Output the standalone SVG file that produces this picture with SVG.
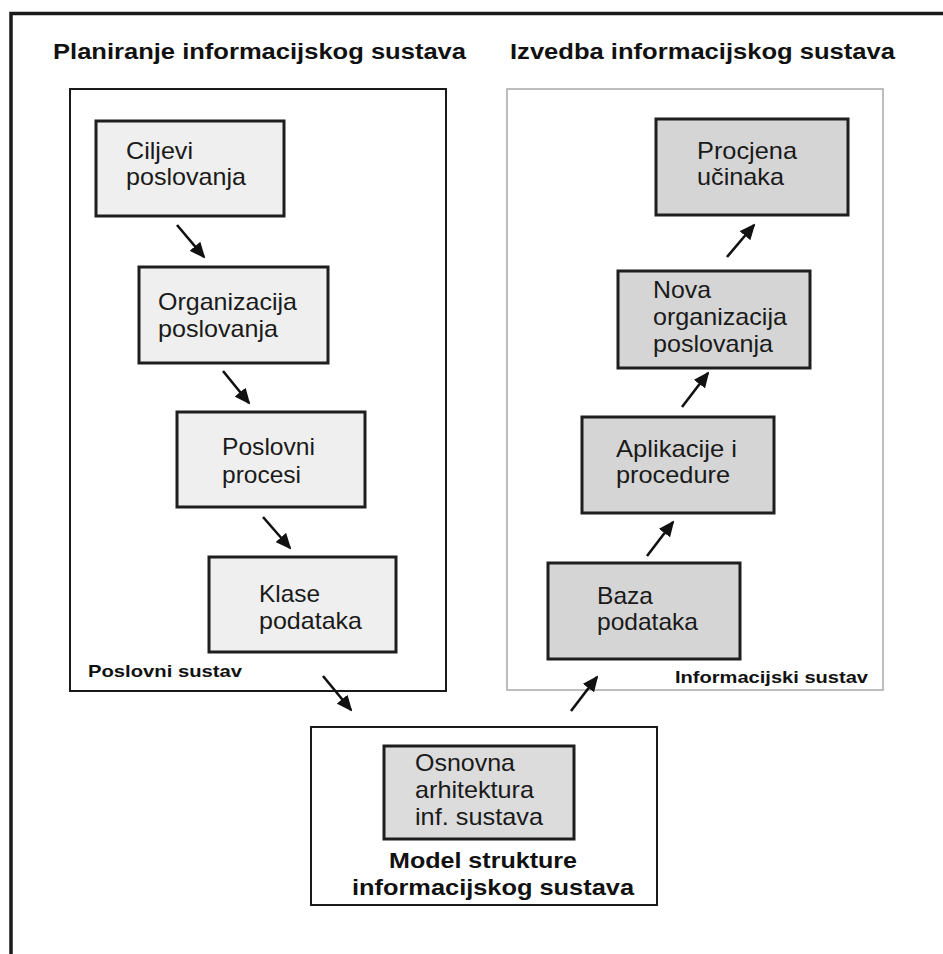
<svg xmlns="http://www.w3.org/2000/svg" width="943" height="954" viewBox="0 0 943 954">
<defs>
<style>
.t{font-family:"Liberation Sans",Arial,sans-serif;font-size:24px;fill:#1a1a1a}
.b{font-family:"Liberation Sans",Arial,sans-serif;font-weight:bold;fill:#111}
.h{font-size:22px}
.m{font-size:22px}
.s{font-size:16.5px}
.nl{fill:#efefef;stroke:#1e1e1e;stroke-width:3}
.nr{fill:#d5d5d5;stroke:#1e1e1e;stroke-width:3}
.no{fill:#dcdcdc;stroke:#1e1e1e;stroke-width:3}
.c{stroke:#111;stroke-width:2.6;fill:none;marker-end:url(#ah)}
</style>
<marker id="ah" markerUnits="userSpaceOnUse" markerWidth="16" markerHeight="14" refX="14" refY="7" orient="auto">
<path d="M0,0 L16,7 L0,14 Z" fill="#111"/>
</marker>
</defs>
<rect width="943" height="954" fill="#fff"/>
<g id="frame">
<path d="M11,954 L11,13.5 L943,13.5" fill="none" stroke="#1a1a1a" stroke-width="3.5"/>
</g>
<g id="titles">
<text class="b h" x="53" y="59" textLength="413" lengthAdjust="spacingAndGlyphs">Planiranje informacijskog sustava</text>
<text class="b h" x="510" y="59" textLength="385" lengthAdjust="spacingAndGlyphs">Izvedba informacijskog sustava</text>
</g>
<g id="poslovni-sustav">
<rect x="70" y="89" width="376" height="602" fill="#fff" stroke="#1a1a1a" stroke-width="2"/>
<text class="b s" x="88" y="677" textLength="154" lengthAdjust="spacingAndGlyphs">Poslovni sustav</text>
</g>
<g id="informacijski-sustav">
<rect x="507" y="89" width="376" height="601" fill="#fff" stroke="#a8a8a8" stroke-width="1.5"/>
<text class="b s" x="675" y="683" textLength="193" lengthAdjust="spacingAndGlyphs">Informacijski sustav</text>
</g>
<g id="model-strukture">
<rect x="311" y="727" width="346" height="178" fill="#fff" stroke="#1a1a1a" stroke-width="2"/>
<text class="b m" x="389" y="868" textLength="188" lengthAdjust="spacingAndGlyphs">Model strukture</text>
<text class="b m" x="352" y="895" textLength="282" lengthAdjust="spacingAndGlyphs">informacijskog sustava</text>
</g>
<g id="ciljevi">
<rect class="nl" x="96" y="121" width="188" height="95"/>
<text class="t" x="126" y="159" textLength="67" lengthAdjust="spacingAndGlyphs">Ciljevi</text>
<text class="t" x="126" y="185" textLength="120" lengthAdjust="spacingAndGlyphs">poslovanja</text>
</g>
<g id="organizacija">
<rect class="nl" x="139" y="267" width="189" height="96"/>
<text class="t" x="158" y="310" textLength="139" lengthAdjust="spacingAndGlyphs">Organizacija</text>
<text class="t" x="158" y="337" textLength="120" lengthAdjust="spacingAndGlyphs">poslovanja</text>
</g>
<g id="procesi">
<rect class="nl" x="177" y="412" width="188" height="95"/>
<text class="t" x="222" y="455" textLength="93" lengthAdjust="spacingAndGlyphs">Poslovni</text>
<text class="t" x="222" y="483" textLength="79" lengthAdjust="spacingAndGlyphs">procesi</text>
</g>
<g id="klase">
<rect class="nl" x="209" y="557" width="187" height="95"/>
<text class="t" x="259" y="602" textLength="61" lengthAdjust="spacingAndGlyphs">Klase</text>
<text class="t" x="259" y="629" textLength="103" lengthAdjust="spacingAndGlyphs">podataka</text>
</g>
<g id="procjena">
<rect class="nr" x="656" y="119" width="192" height="96"/>
<text class="t" x="697" y="159" textLength="100" lengthAdjust="spacingAndGlyphs">Procjena</text>
<text class="t" x="697" y="185" textLength="87" lengthAdjust="spacingAndGlyphs">učinaka</text>
</g>
<g id="nova-organizacija">
<rect class="nr" x="618" y="271" width="192" height="97"/>
<text class="t" x="653" y="298" textLength="58" lengthAdjust="spacingAndGlyphs">Nova</text>
<text class="t" x="653" y="325" textLength="134" lengthAdjust="spacingAndGlyphs">organizacija</text>
<text class="t" x="653" y="352" textLength="120" lengthAdjust="spacingAndGlyphs">poslovanja</text>
</g>
<g id="aplikacije">
<rect class="nr" x="582" y="417" width="192" height="96"/>
<text class="t" x="616" y="457" textLength="121" lengthAdjust="spacingAndGlyphs">Aplikacije i</text>
<text class="t" x="616" y="483" textLength="114" lengthAdjust="spacingAndGlyphs">procedure</text>
</g>
<g id="baza">
<rect class="nr" x="548" y="563" width="192" height="96"/>
<text class="t" x="597" y="604" textLength="56" lengthAdjust="spacingAndGlyphs">Baza</text>
<text class="t" x="597" y="630" textLength="101" lengthAdjust="spacingAndGlyphs">podataka</text>
</g>
<g id="osnovna-arhitektura">
<rect class="no" x="384" y="746" width="190" height="93"/>
<text class="t" x="415" y="771" textLength="100" lengthAdjust="spacingAndGlyphs">Osnovna</text>
<text class="t" x="415" y="798" textLength="119" lengthAdjust="spacingAndGlyphs">arhitektura</text>
<text class="t" x="415" y="825" textLength="128" lengthAdjust="spacingAndGlyphs">inf. sustava</text>
</g>
<g id="connectors">
<line class="c" x1="177" y1="225" x2="204" y2="257"/>
<line class="c" x1="223" y1="371" x2="249" y2="403"/>
<line class="c" x1="263" y1="517" x2="290" y2="548"/>
<line class="c" x1="323" y1="676" x2="351" y2="710"/>
<line class="c" x1="571" y1="711" x2="597" y2="677"/>
<line class="c" x1="647" y1="556" x2="673" y2="522"/>
<line class="c" x1="682" y1="407" x2="708" y2="373"/>
<line class="c" x1="727" y1="257" x2="754" y2="225"/>
</g>
</svg>
